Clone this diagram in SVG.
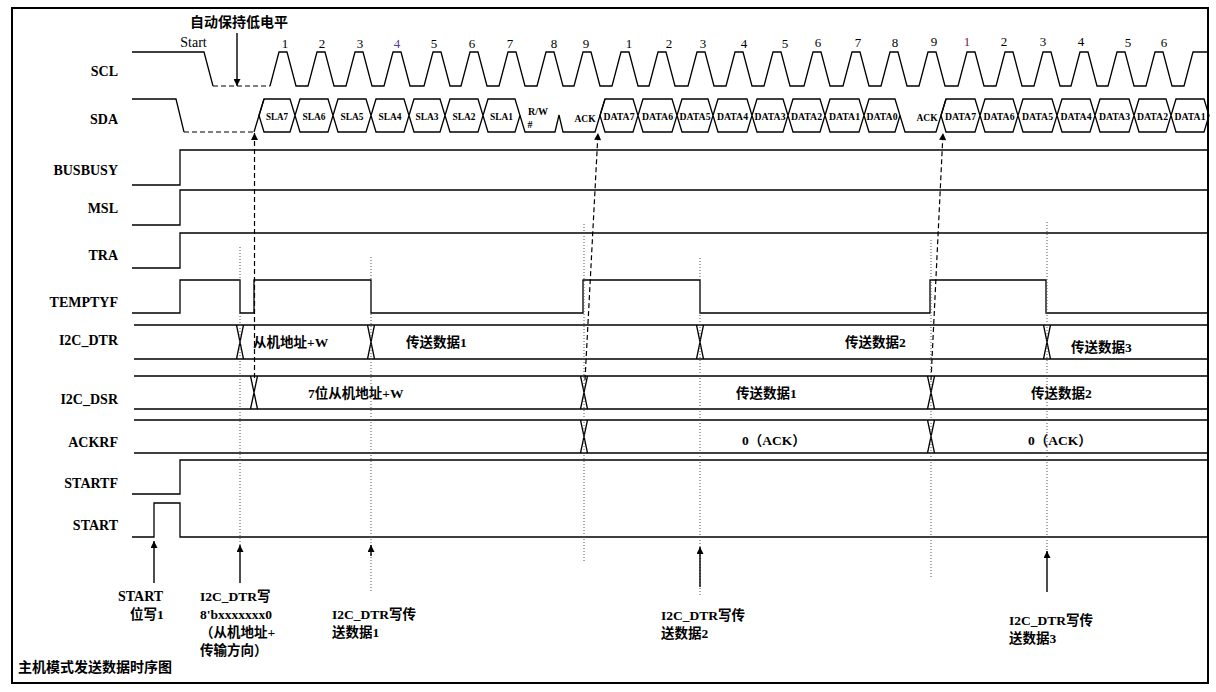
<svg xmlns="http://www.w3.org/2000/svg" width="1216" height="692" viewBox="0 0 1216 692">
<style>
.sig{fill:none;stroke:#000;stroke-width:1.3;stroke-linejoin:miter}
.dash{fill:none;stroke:#000;stroke-width:1.2;stroke-dasharray:5 3}
.dot{fill:none;stroke:#555;stroke-width:1;stroke-dasharray:1 2}
.arr{fill:none;stroke:#000;stroke-width:1.4}
.lbl{font-family:"Liberation Serif","Noto Sans CJK SC",serif;font-weight:bold;font-size:14px;fill:#000;text-anchor:end}
.t{font-family:"Liberation Serif","Noto Sans CJK SC",serif;font-weight:bold;font-size:13.5px;fill:#000}
.cell{font-family:"Liberation Serif",serif;font-weight:bold;font-size:10.5px;fill:#000;text-anchor:middle}
.num{font-family:"Liberation Serif",serif;font-size:13px;fill:#000;text-anchor:middle}
</style>
<defs>
<marker id="ah" viewBox="0 0 10 10" refX="10" refY="5" markerWidth="9" markerHeight="7" markerUnits="userSpaceOnUse" orient="auto">
<path d="M0,0 L10,5 L0,10 z" fill="#000" stroke="none"/>
</marker>
</defs>
<rect x="12" y="8" width="1196" height="675" fill="#fff" stroke="#000" stroke-width="2"/>

<g id="scl">
<text class="lbl" x="118" y="76">SCL</text>
<path class="sig" d="M132,52 H204 L213,86"/>
<path class="dash" d="M213,86 H270"/>
<path class="sig" d="M270,86 L279,52 H287 L296,86 H308 L317,52 H325 L334,86 H346 L355,52 H363 L372,86 H384 L393,52 H401 L410,86 H424 L433,52 H441 L450,86 H461 L470,52 H478 L487,86 H499 L508,52 H516 L525,86 H537 L546,52 H554 L563,86 H574 L583,52 H591 L600,86 H612 L621,52 H629 L638,86 H649 L658,52 H666 L675,86 H688 L697,52 H705 L714,86 H726 L735,52 H743 L752,86 H764 L773,52 H781 L790,86 H804 L813,52 H821 L830,86 H843 L852,52 H860 L869,86 H881 L890,52 H898 L907,86 H919 L928,52 H936 L945,86 H958 L967,52 H975 L984,86 H996 L1005,52 H1013 L1022,86 H1034 L1043,52 H1051 L1060,86 H1071 L1080,52 H1088 L1097,86 H1108 L1117,52 H1125 L1134,86 H1146 L1155,52 H1163 L1172,86 H1184 L1193,52 H1207"/>
<text class="num" x="193.5" y="47" style="font-size:14px">Start</text>
<text class="num" x="285" y="48">1</text>
<text class="num" x="322" y="48">2</text>
<text class="num" x="360" y="48">3</text>
<text class="num" x="397" y="48" style="fill:#5a3c96">4</text>
<text class="num" x="434" y="48">5</text>
<text class="num" x="472" y="48">6</text>
<text class="num" x="510" y="48">7</text>
<text class="num" x="554" y="48">8</text>
<text class="num" x="586" y="48">9</text>
<text class="num" x="629" y="48">1</text>
<text class="num" x="669" y="48">2</text>
<text class="num" x="703" y="48">3</text>
<text class="num" x="744" y="48">4</text>
<text class="num" x="785" y="48">5</text>
<text class="num" x="818" y="47">6</text>
<text class="num" x="858" y="47">7</text>
<text class="num" x="895" y="47">8</text>
<text class="num" x="934" y="46">9</text>
<text class="num" x="967" y="46" style="fill:#7a1a3a">1</text>
<text class="num" x="1004" y="46">2</text>
<text class="num" x="1043" y="46">3</text>
<text class="num" x="1081" y="46">4</text>
<text class="num" x="1128" y="47">5</text>
<text class="num" x="1164" y="47">6</text>
<text class="t" x="190" y="27" style="font-size:14px">自动保持低电平</text>
</g>

<g id="sda">
<text class="lbl" x="118" y="124">SDA</text>
<path class="sig" d="M132,99 H176 L184,132"/>
<path class="dash" d="M184,132 H254"/>
<path class="sig" d="M254,132 L264,99"/>
<path class="sig" d="M259,115.5 L264,99 H290 L295,115.5 L290,132 H264 Z M295,115.5 L300,99 H328 L333,115.5 L328,132 H300 Z M333,115.5 L338,99 H366 L371,115.5 L366,132 H338 Z M371,115.5 L376,99 H404 L409,115.5 L404,132 H376 Z M409,115.5 L414,99 H440 L445,115.5 L440,132 H414 Z M445,115.5 L450,99 H478 L483,115.5 L478,132 H450 Z M483,115.5 L488,99 H515 L520,115.5 L515,132 H488 Z"/>
<path class="sig" d="M520,115.5 L525,132 H555 L559,115 L563,132 H595 L605,99"/>
<path class="sig" d="M600,115.5 L605,99 H633 L638,115.5 L633,132 H605 Z M638,115.5 L643,99 H672 L677,115.5 L672,132 H643 Z M677,115.5 L682,99 H708 L713,115.5 L708,132 H682 Z M713,115.5 L718,99 H747 L752,115.5 L747,132 H718 Z M752,115.5 L757,99 H783 L788,115.5 L783,132 H757 Z M788,115.5 L793,99 H820 L825,115.5 L820,132 H793 Z M825,115.5 L830,99 H859 L864,115.5 L859,132 H830 Z M864,115.5 L869,99 H895 L900,115.5 L895,132 H869 Z"/>
<path class="sig" d="M900,115.5 L905,132 H936 L946,99"/>
<path class="sig" d="M941,115.5 L946,99 H975 L980,115.5 L975,132 H946 Z M980,115.5 L985,99 H1013 L1018,115.5 L1013,132 H985 Z M1018,115.5 L1023,99 H1052 L1057,115.5 L1052,132 H1023 Z M1057,115.5 L1062,99 H1090 L1095,115.5 L1090,132 H1062 Z M1095,115.5 L1100,99 H1129 L1134,115.5 L1129,132 H1100 Z M1134,115.5 L1139,99 H1166 L1171,115.5 L1166,132 H1139 Z M1171,115.5 L1176,99 H1204 L1209,115.5 L1204,132 H1176 Z"/>
<text class="cell" x="277" y="119.5" textLength="22" lengthAdjust="spacingAndGlyphs">SLA7</text>
<text class="cell" x="314" y="119.5" textLength="23" lengthAdjust="spacingAndGlyphs">SLA6</text>
<text class="cell" x="352" y="119.5" textLength="23" lengthAdjust="spacingAndGlyphs">SLA5</text>
<text class="cell" x="390" y="119.5" textLength="23" lengthAdjust="spacingAndGlyphs">SLA4</text>
<text class="cell" x="427" y="119.5" textLength="23" lengthAdjust="spacingAndGlyphs">SLA3</text>
<text class="cell" x="464" y="119.5" textLength="23" lengthAdjust="spacingAndGlyphs">SLA2</text>
<text class="cell" x="501.5" y="119.5" textLength="23" lengthAdjust="spacingAndGlyphs">SLA1</text>
<text class="cell" x="538" y="115" style="text-anchor:middle;font-size:10px">R/W</text>
<text class="cell" x="530" y="128" style="font-size:10px">#</text>
<text class="cell" x="585" y="121.5" style="font-size:9.5px">ACK</text>
<text class="cell" x="619" y="119.5" textLength="31" lengthAdjust="spacingAndGlyphs">DATA7</text>
<text class="cell" x="657.5" y="119.5" textLength="31" lengthAdjust="spacingAndGlyphs">DATA6</text>
<text class="cell" x="695" y="119.5" textLength="31" lengthAdjust="spacingAndGlyphs">DATA5</text>
<text class="cell" x="732.5" y="119.5" textLength="31" lengthAdjust="spacingAndGlyphs">DATA4</text>
<text class="cell" x="770" y="119.5" textLength="31" lengthAdjust="spacingAndGlyphs">DATA3</text>
<text class="cell" x="806.5" y="119.5" textLength="31" lengthAdjust="spacingAndGlyphs">DATA2</text>
<text class="cell" x="844.5" y="119.5" textLength="31" lengthAdjust="spacingAndGlyphs">DATA1</text>
<text class="cell" x="882" y="119.5" textLength="31" lengthAdjust="spacingAndGlyphs">DATA0</text>
<text class="cell" x="927" y="121" style="font-size:9.5px">ACK</text>
<text class="cell" x="960.5" y="119.5" textLength="31" lengthAdjust="spacingAndGlyphs">DATA7</text>
<text class="cell" x="999" y="119.5" textLength="31" lengthAdjust="spacingAndGlyphs">DATA6</text>
<text class="cell" x="1037.5" y="119.5" textLength="31" lengthAdjust="spacingAndGlyphs">DATA5</text>
<text class="cell" x="1076" y="119.5" textLength="31" lengthAdjust="spacingAndGlyphs">DATA4</text>
<text class="cell" x="1114.5" y="119.5" textLength="31" lengthAdjust="spacingAndGlyphs">DATA3</text>
<text class="cell" x="1152.5" y="119.5" textLength="31" lengthAdjust="spacingAndGlyphs">DATA2</text>
<text class="cell" x="1190" y="119.5" textLength="31" lengthAdjust="spacingAndGlyphs">DATA1</text>
</g>

<g id="busbusy">
<text class="lbl" x="118" y="175">BUSBUSY</text>
<path class="sig" d="M132,185 H180 V150 H1208"/>
</g>
<g id="msl">
<text class="lbl" x="118" y="213">MSL</text>
<path class="sig" d="M132,225 H180 V190 H1208"/>
</g>
<g id="tra">
<text class="lbl" x="118" y="260">TRA</text>
<path class="sig" d="M132,268 H180 V233 H1208"/>
</g>
<g id="temptyf">
<text class="lbl" x="118" y="307">TEMPTYF</text>
<path class="sig" d="M132,313 H180 V280 H240 V313 H254 V280 H371 V313 H583 V280 H700 V313 H930 V280 H1046 V313 H1208"/>
</g>

<g id="i2c_dtr">
<text class="lbl" x="118" y="345">I2C_DTR</text>
<path class="sig" d="M134,325 H1208 M134,359 H1208 M236.5,325 L243.5,359 M243.5,325 L236.5,359 M367.5,325 L374.5,359 M374.5,325 L367.5,359 M696.5,325 L703.5,359 M703.5,325 L696.5,359 M1043.5,325 L1050.5,359 M1050.5,325 L1043.5,359"/>
<text class="t" x="253" y="347">从机地址+W</text>
<text class="t" x="406" y="347">传送数据1</text>
<text class="t" x="845" y="347">传送数据2</text>
<text class="t" x="1071" y="352">传送数据3</text>
</g>

<g id="i2c_dsr">
<text class="lbl" x="118" y="404">I2C_DSR</text>
<path class="sig" d="M134,376 H1208 M134,409 H1208 M250.5,376 L257.5,409 M257.5,376 L250.5,409 M580.5,376 L587.5,409 M587.5,376 L580.5,409 M927.5,376 L934.5,409 M934.5,376 L927.5,409"/>
<text class="t" x="308" y="398">7位从机地址+W</text>
<text class="t" x="736" y="398">传送数据1</text>
<text class="t" x="1031" y="398">传送数据2</text>
</g>

<g id="ackrf">
<text class="lbl" x="118" y="447">ACKRF</text>
<path class="sig" d="M134,420 H1208 M134,453 H1208 M580.5,420 L587.5,453 M587.5,420 L580.5,453 M927.5,420 L934.5,453 M934.5,420 L927.5,453"/>
<text class="t" x="742" y="445">0（ACK）</text>
<text class="t" x="1028" y="445">0（ACK）</text>
</g>

<g id="startf">
<text class="lbl" x="118" y="488">STARTF</text>
<path class="sig" d="M132,494 H180 V460 H1208"/>
</g>
<g id="start">
<text class="lbl" x="118" y="530">START</text>
<path class="sig" d="M132,537 H154 V503 H180 V537 H1208"/>
</g>

<g id="connectors">
<path class="arr" d="M237,33 V86" marker-end="url(#ah)"/>
<path class="dash" d="M254.5,378 V133" marker-end="url(#ah)"/>
<path class="dash" d="M585,380 L598,133" marker-end="url(#ah)"/>
<path class="dash" d="M931,380 L943,133" marker-end="url(#ah)"/>
<path class="dot" d="M240,247 V548"/>
<path class="dot" d="M371,257 V593"/>
<path class="dot" d="M584,224 V562"/>
<path class="dot" d="M700,258 V596"/>
<path class="dot" d="M931,240 V577"/>
<path class="dot" d="M1047,222 V555"/>
<path class="arr" d="M154,583 V541" marker-end="url(#ah)"/>
<path class="arr" d="M240,583 V545" marker-end="url(#ah)"/>
<path class="arr" d="M371,556 V545" marker-end="url(#ah)"/>
<path class="arr" d="M700,587 V547" marker-end="url(#ah)"/>
<path class="arr" d="M1047,592 V551" marker-end="url(#ah)"/>
</g>

<g id="notes">
<text class="t" x="118" y="601" style="font-size:14px">START</text>
<text class="t" x="130" y="619">位写1</text>
<text class="t" x="200" y="601">I2C_DTR写</text>
<text class="t" x="200" y="619">8'bxxxxxxx0</text>
<text class="t" x="200" y="637">（从机地址+</text>
<text class="t" x="200" y="655">传输方向）</text>
<text class="t" x="332" y="619">I2C_DTR写传</text>
<text class="t" x="332" y="637">送数据1</text>
<text class="t" x="661" y="620">I2C_DTR写传</text>
<text class="t" x="661" y="638">送数据2</text>
<text class="t" x="1009" y="625">I2C_DTR写传</text>
<text class="t" x="1009" y="643">送数据3</text>
<text class="t" x="18" y="672" style="font-size:14px">主机模式发送数据时序图</text>
</g>
</svg>
